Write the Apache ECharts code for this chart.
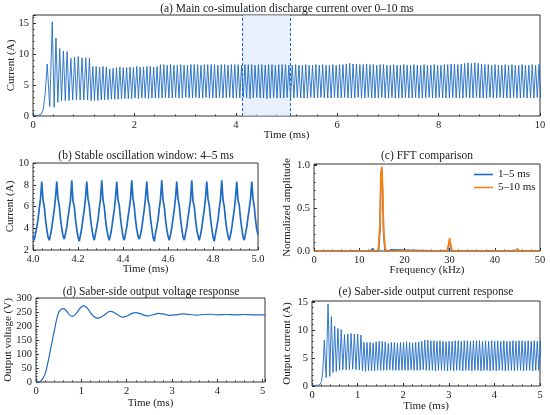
<!DOCTYPE html>
<html>
<head>
<meta charset="utf-8">
<title>Co-simulation discharge current</title>
<script src="https://cdn.jsdelivr.net/npm/echarts@6/dist/echarts.min.js"></script>
<style>
html, body { margin: 0; padding: 0; background: #fff; }
#chart { width: 550px; height: 415px; }
</style>
</head>
<body>
<div id="chart"></div>
<script>
// ---- (a) main discharge current, 0-10 ms ----
// start-up transient (turning points)
var aStartT = [0, 0.1, 0.16, 0.2, 0.24, 0.28, 0.33, 0.38, 0.417, 0.453, 0.49, 0.527, 0.563, 0.60, 0.637,
  0.673, 0.71, 0.747, 0.783, 0.82, 0.857, 0.893, 0.93, 0.967, 1.003, 1.04, 1.077, 1.113, 1.147];
var aStartV = [0.1, 0.1, 0.3, 1.0, 3.5, 8.4, 1.5, 15.2, 1.4, 12.6, 2.2, 10.9, 2.4, 10.5, 2.5,
  10.4, 2.5, 9.3, 2.6, 9.5, 2.6, 9.6, 2.6, 9.4, 2.6, 9.4, 2.6, 9.3, 2.5];
// steady switching: one peak and one trough per 15 kHz cycle
var aT0 = 1.18, aPeriod = 1 / 15, aFall = 0.033;
var aPeak = [
  8.0, 8.0, 7.9, 8.0, 7.9, 7.6, 7.7, 7.8, 7.9, 7.8, 7.8, 7.9, 7.8,
  8.0, 7.9, 7.9, 8.0, 8.0, 7.9, 8.0, 8.3, 8.3, 8.2, 8.3, 8.2, 8.2, 8.3, 8.2,
  8.2, 8.3, 8.3, 8.3, 8.2, 8.3, 8.3, 8.3, 8.3, 8.2, 8.3, 8.3, 8.2, 8.3, 8.3,
  8.3, 8.2, 8.3, 8.3, 8.3, 8.2, 8.3, 8.3, 8.2, 8.3, 8.3, 8.2, 8.3, 8.3, 8.3,
  8.2, 8.2, 8.3, 8.2, 8.2, 8.3, 8.2, 8.2, 8.3, 8.2, 8.3, 8.2, 8.2, 8.3, 8.2,
  8.3, 8.3, 8.4, 8.5, 8.4, 8.4, 8.3, 8.3, 8.4, 8.3, 8.3, 8.2, 8.3, 8.3, 8.2,
  8.2, 8.3, 8.2, 8.2, 8.3, 8.2, 8.2, 8.3, 8.2, 8.2, 8.3, 8.2, 8.2, 8.3, 8.2,
  8.2, 8.3, 8.3, 8.4, 8.4, 8.3, 8.4, 8.5, 8.6, 8.5, 8.6, 8.5, 8.4, 8.3, 8.3,
  8.2, 8.3, 8.2, 8.2, 8.3, 8.2, 8.3, 8.2, 8.2, 8.3, 8.2, 8.2, 8.3, 8.2, 8.3, 8.2];
var aTrough = [
  2.5, 2.5, 2.6, 2.6, 2.6, 2.7, 2.7, 2.7, 2.8, 2.8, 2.8, 2.8, 2.9,
  2.8, 2.9, 2.9, 2.8, 2.9, 2.9, 2.9, 2.9, 3.0, 2.9, 2.9, 3.0, 2.9, 2.9, 3.0,
  2.9, 2.9, 3.0, 2.9, 2.9, 3.0, 2.9, 2.9, 2.9, 3.0, 2.9, 2.9, 3.0, 2.9, 2.9,
  2.9, 3.0, 2.9, 2.8, 2.9, 3.0, 2.9, 2.9, 2.8, 2.9, 3.0, 2.9, 2.9, 2.9, 3.0,
  2.9, 2.9, 3.0, 2.9, 2.9, 2.9, 3.0, 2.9, 2.9, 3.0, 2.9, 2.9, 2.9, 3.0, 2.9,
  2.9, 3.0, 2.9, 2.9, 2.9, 3.0, 2.9, 2.9, 3.0, 2.9, 2.9, 2.9, 3.0, 2.9, 2.9,
  3.0, 2.9, 2.9, 2.9, 3.0, 2.9, 2.9, 3.0, 2.9, 2.9, 2.9, 3.0, 2.9, 2.9, 3.0,
  2.9, 2.9, 2.9, 3.0, 2.9, 2.9, 2.9, 3.0, 2.9, 2.9, 3.0, 2.9, 2.9, 2.9, 3.0,
  2.9, 2.9, 3.0, 2.9, 2.9, 2.9, 3.0, 2.9, 2.9, 3.0, 2.9, 2.9, 2.9, 3.0, 2.9, 2.9];
var aBand = [4.12, 5.08];

// ---- (b) zoom 4-5 ms, sampled every 1/180 ms ----
var bT0 = 4.0, bStep = 1 / 180;
var bCur = [
  3.3, 2.9, 3.5, 4.1, 4.8, 5.8, 6.7, 8.3, 6.6, 6.0, 4.8, 3.9,
  3.2, 2.9, 3.4, 4.0, 4.9, 5.7, 6.8, 8.3, 6.7, 6.1, 4.9, 4.0,
  3.3, 3.0, 3.5, 4.1, 5.0, 5.8, 6.6, 8.4, 6.5, 6.0, 4.8, 3.9,
  3.2, 2.8, 3.4, 4.0, 4.9, 5.7, 6.8, 8.3, 6.7, 6.1, 4.9, 4.0,
  3.3, 2.9, 3.5, 4.1, 4.8, 5.8, 6.7, 8.4, 6.6, 6.0, 4.8, 3.9,
  3.3, 2.9, 3.4, 4.0, 4.9, 5.7, 6.8, 8.3, 6.6, 6.1, 4.9, 4.0,
  3.2, 2.9, 3.5, 4.1, 5.0, 5.8, 6.7, 8.4, 6.7, 6.0, 4.8, 3.9,
  3.3, 3.0, 3.4, 4.0, 4.9, 5.7, 6.8, 8.3, 6.6, 6.1, 4.9, 4.0,
  3.2, 2.8, 3.5, 4.1, 4.8, 5.8, 6.7, 8.4, 6.6, 6.0, 4.8, 3.9,
  3.3, 2.9, 3.4, 4.0, 4.9, 5.7, 6.8, 8.3, 6.7, 6.1, 4.9, 4.0,
  3.2, 2.9, 3.5, 4.1, 5.0, 5.8, 6.6, 8.4, 6.5, 6.0, 4.8, 3.9,
  3.3, 2.9, 3.4, 4.0, 4.9, 5.7, 6.8, 8.3, 6.7, 6.1, 4.9, 4.0,
  3.2, 2.8, 3.5, 4.1, 4.8, 5.8, 6.7, 8.4, 6.6, 6.0, 4.8, 3.9,
  3.3, 2.9, 3.4, 4.0, 4.9, 5.7, 6.8, 8.3, 6.6, 6.1, 4.9, 4.0,
  3.2, 2.9, 3.5, 4.1, 5.0, 5.8, 6.7, 8.3, 6.7, 6.0, 4.8, 3.9,
  3.4];

// ---- (c) FFT, normalized ----
var cBlueF = [0, 1.5, 1.75, 2.0, 3.5, 3.75, 4.0, 8.0, 8.25, 8.5, 12.5, 12.75, 13.0, 13.25, 14.3, 14.6,
  14.8, 15.0, 15.2, 15.4, 15.7, 16.5, 16.75, 17.0, 17.25, 27.5, 27.75, 28.0, 29.5, 29.8, 30.0,
  30.2, 30.5, 34.75, 35.0, 35.25, 44.5, 44.75, 45.0, 45.25, 45.5, 50];
var cBlueA = [0, 0, 0.01, 0, 0, 0.01, 0, 0, 0.005, 0, 0, 0.02, 0.03, 0, 0, 0.25,
  0.85, 0.96, 0.65, 0.2, 0, 0, 0.02, 0.015, 0, 0, 0.01, 0, 0, 0.06, 0.12,
  0.06, 0, 0, 0.005, 0, 0, 0.005, 0.02, 0.005, 0, 0];
var cOrangeF = [0, 14.2, 14.6, 14.8, 15.0, 15.2, 15.4, 15.8, 29.4, 29.8, 30.0, 30.2, 30.6, 44.6, 45.0, 45.4, 50];
var cOrangeA = [0, 0, 0.3, 0.9, 0.98, 0.7, 0.25, 0, 0, 0.08, 0.15, 0.08, 0, 0, 0.025, 0, 0];

// ---- (d) Saber output voltage ----
var dTime = [0, 0.05, 0.1, 0.15, 0.2, 0.25, 0.3, 0.35, 0.4, 0.45, 0.5, 0.55, 0.6, 0.65, 0.7, 0.75,
  0.8, 0.85, 0.9, 0.95, 1.0, 1.05, 1.1, 1.15, 1.2, 1.25, 1.3, 1.35, 1.4, 1.5, 1.6, 1.65, 1.7, 1.8,
  1.9, 2.0, 2.1, 2.2, 2.3, 2.45, 2.6, 2.7, 2.8, 2.95, 3.1, 3.25, 3.4, 3.55, 3.7, 3.85, 4.0, 4.2,
  4.4, 4.6, 4.8, 5.05];
var dVolt = [0, 0, 3, 12, 28, 60, 100, 140, 180, 220, 248, 259, 262, 258, 248, 238,
  235, 238, 247, 259, 268, 272, 269, 260, 248, 238, 231, 228, 229, 238, 251, 252, 250, 240,
  232, 235, 244, 248, 244, 236, 241, 245, 243, 238, 240, 243, 241, 239, 241, 242, 240, 241,
  240, 241, 240, 240];

// ---- (e) Saber output current, 0-5 ms ----
var eStartT = [0, 0.1, 0.17, 0.21, 0.24, 0.27, 0.31, 0.352, 0.39, 0.425, 0.461, 0.497, 0.533, 0.569,
  0.605, 0.641, 0.677, 0.713, 0.749, 0.785, 0.821, 0.857, 0.893, 0.929, 0.965, 1.001, 1.037, 1.073, 1.107];
var eStartV = [0.1, 0.1, 0.2, 0.8, 3.0, 8.2, 1.5, 14.7, 1.7, 12.4, 2.4, 10.7, 2.6, 10.3,
  2.8, 10.1, 2.9, 9.2, 2.9, 9.3, 2.9, 9.4, 3.0, 9.3, 2.9, 9.3, 2.9, 9.1, 2.7];
var eT0 = 1.14, ePeriod = 1 / 15, eFall = 0.033;
var ePeak = [
  7.8, 7.8, 7.8, 7.7, 7.9, 8.0, 8.0, 7.9, 7.6, 7.8, 7.8, 7.7, 7.8,
  7.8, 7.9, 7.8, 7.7, 7.8, 7.9, 8.0, 8.2, 8.2, 8.1, 8.1, 8.0, 8.1, 8.0, 7.9,
  8.0, 8.0, 8.1, 8.1, 8.0, 8.1, 8.1, 8.0, 8.1, 8.1, 8.1, 8.0, 8.1, 8.0, 8.1,
  8.0, 8.1, 8.0, 8.1, 8.0, 8.0, 8.1, 8.0, 8.1, 8.1, 8.0, 8.1, 8.0, 8.1, 8.0, 8.0];
var eTrough = [
  2.6, 2.7, 2.7, 2.7, 2.8, 2.8, 2.8, 2.8, 2.9, 2.8, 2.8, 2.8, 2.8,
  2.8, 2.8, 2.9, 2.8, 2.8, 2.8, 2.9, 2.8, 2.8, 2.8, 2.7, 2.8, 2.8, 2.8, 2.7,
  2.8, 2.7, 2.8, 2.8, 2.7, 2.8, 2.8, 2.7, 2.8, 2.8, 2.7, 2.8, 2.8, 2.7, 2.8,
  2.7, 2.8, 2.8, 2.7, 2.8, 2.8, 2.7, 2.8, 2.8, 2.7, 2.8, 2.8, 2.7, 2.8, 2.8, 2.7];

var BLUE = '#1f6bc4', ORANGE = '#ff7f0e';
var FONT = "'Liberation Serif', 'DejaVu Serif', serif";

function pairs(xs, ys) {
  var out = [];
  for (var i = 0; i < xs.length; i++) out.push([xs[i], ys[i]]);
  return out;
}
function waveform(startT, startV, t0, period, fall, peaks, troughs) {
  var out = pairs(startT, startV);
  for (var k = 0; k < peaks.length; k++) {
    out.push([t0 + k * period, peaks[k]]);
    out.push([t0 + k * period + fall, troughs[k]]);
  }
  return out;
}
function sampled(t0, step, vals) {
  var out = [];
  for (var i = 0; i < vals.length; i++) out.push([t0 + i * step, vals[i]]);
  return out;
}

function fmt(interval, digits) {
  return function (v) {
    var r = v / interval;
    if (Math.abs(r - Math.round(r)) > 1e-6) return '';
    return v.toFixed(digits);
  };
}
function axis(g, min, max, interval, digits, name, gap) {
  return {
    type: 'value', gridIndex: g, min: min, max: max, interval: interval,
    name: name, nameLocation: 'middle', nameGap: gap, nameMoveOverlap: false,
    nameTextStyle: { fontFamily: FONT, fontSize: 11, color: '#222' },
    axisLine: { show: false },
    axisTick: { inside: true, length: 3, lineStyle: { color: '#333' } },
    minorTick: { show: true, splitNumber: 5, length: 1.5, lineStyle: { color: '#333' } },
    splitLine: { show: false },
    axisLabel: { fontFamily: FONT, fontSize: 10.5, color: '#222', margin: 4, formatter: fmt(interval, digits) }
  };
}

var chart = echarts.init(document.getElementById('chart'), null, { renderer: 'canvas' });

var titles = [
  ['(a) Main co-simulation discharge current over 0\u201310 ms', 287, 3],
  ['(b) Stable oscillation window: 4\u20135 ms', 146, 150],
  ['(c) FFT comparison', 427, 150],
  ['(d) Saber-side output voltage response', 151, 286],
  ['(e) Saber-side output current response', 426, 286]
];

var option = {
  animation: false,
  backgroundColor: '#fff',
  title: titles.map(function (t) {
    return { text: t[0], left: t[1], top: t[2], textAlign: 'center', padding: 0,
      textStyle: { fontFamily: FONT, fontSize: 11.5, fontWeight: 'normal', color: '#222' } };
  }),
  legend: {
    data: ['1\u20135 ms', '5\u201310 ms'], orient: 'vertical', left: 474, top: 169,
    icon: 'rect', itemWidth: 19, itemHeight: 1.6, itemGap: 2, padding: 0,
    textStyle: { fontFamily: FONT, fontSize: 11, color: '#222' }
  },
  grid: [
    { left: 33, top: 15, width: 507, height: 101 },
    { left: 33, top: 163, width: 225, height: 87 },
    { left: 314, top: 164, width: 226, height: 87 },
    { left: 36, top: 298, width: 229, height: 84 },
    { left: 312, top: 301, width: 228, height: 85 }
  ].map(function (g) {
    g.show = true; g.borderColor = '#333'; g.borderWidth = 1;
    g.containLabel = false; g.outerBoundsMode = 'none';
    return g;
  }),
  xAxis: [
    axis(0, 0, 10, 2, 0, 'Time (ms)', 14),
    axis(1, 4, 5, 0.2, 1, 'Time (ms)', 14),
    axis(2, 0, 50, 10, 0, 'Frequency (kHz)', 14),
    axis(3, 0, 5.05, 1, 0, 'Time (ms)', 16),
    axis(4, 0, 5, 1, 0, 'Time (ms)', 14.5)
  ],
  yAxis: [
    axis(0, 0, 16.3, 5, 0, 'Current (A)', 16),
    axis(1, 2, 10, 2, 0, 'Current (A)', 17),
    axis(2, 0, 1.01, 0.5, 1, 'Normalized amplitude', 21),
    axis(3, 0, 300, 50, 0, 'Output voltage (V)', 22),
    axis(4, 0, 15.2, 5, 0, 'Output current (A)', 19)
  ],
  series: [
    {
      name: 'band', type: 'line', xAxisIndex: 0, yAxisIndex: 0, z: 1,
      data: [[4.6, -5]], showSymbol: false, lineStyle: { width: 0 },
      markArea: {
        silent: true, itemStyle: { color: 'rgba(214,228,252,0.55)' },
        data: [[{ xAxis: aBand[0] }, { xAxis: aBand[1] }]]
      },
      markLine: {
        silent: true, symbol: 'none', label: { show: false },
        lineStyle: { color: BLUE, type: [3, 2], width: 1 },
        data: [{ xAxis: aBand[0] }, { xAxis: aBand[1] }]
      }
    },
    {
      name: 'a', type: 'line', xAxisIndex: 0, yAxisIndex: 0, z: 3,
      data: waveform(aStartT, aStartV, aT0, aPeriod, aFall, aPeak, aTrough),
      showSymbol: false, lineStyle: { color: BLUE, width: 0.9 }
    },
    {
      name: 'b', type: 'line', xAxisIndex: 1, yAxisIndex: 1,
      data: sampled(bT0, bStep, bCur),
      showSymbol: false, lineStyle: { color: BLUE, width: 1.7 }
    },
    {
      name: '1\u20135 ms', type: 'line', xAxisIndex: 2, yAxisIndex: 2,
      data: pairs(cBlueF, cBlueA), showSymbol: false,
      itemStyle: { color: BLUE }, lineStyle: { color: BLUE, width: 1.5 }
    },
    {
      name: '5\u201310 ms', type: 'line', xAxisIndex: 2, yAxisIndex: 2,
      data: pairs(cOrangeF, cOrangeA), showSymbol: false,
      itemStyle: { color: ORANGE }, lineStyle: { color: ORANGE, width: 1.7 }
    },
    {
      name: 'd', type: 'line', xAxisIndex: 3, yAxisIndex: 3, smooth: 0.3,
      data: pairs(dTime, dVolt), showSymbol: false,
      lineStyle: { color: BLUE, width: 1.2 }
    },
    {
      name: 'e', type: 'line', xAxisIndex: 4, yAxisIndex: 4,
      data: waveform(eStartT, eStartV, eT0, ePeriod, eFall, ePeak, eTrough),
      showSymbol: false, lineStyle: { color: BLUE, width: 0.9 }
    }
  ]
};
chart.setOption(option);
</script>
</body>
</html>
